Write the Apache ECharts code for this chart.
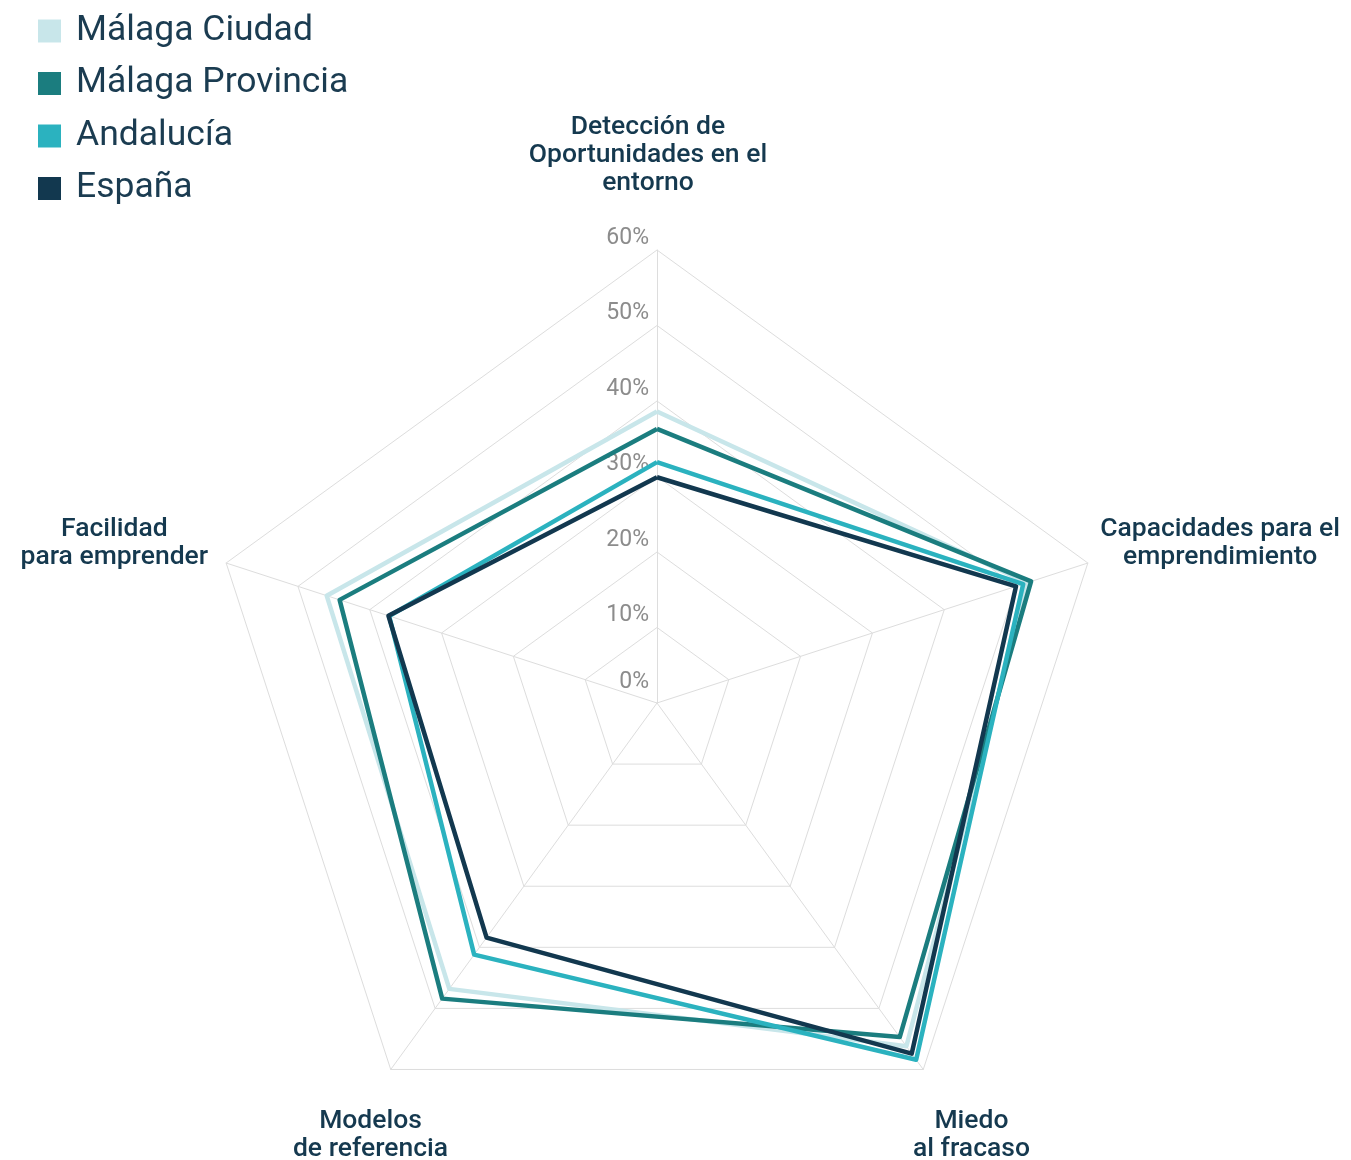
<!DOCTYPE html>
<html lang="es">
<head>
<meta charset="utf-8">
<title>Emprendimiento: percepciones</title>
<script src="https://cdn.jsdelivr.net/npm/echarts@6/dist/echarts.min.js"></script>
<style>
  html, body { margin: 0; padding: 0; background: #ffffff; }
  #chart { width: 1351px; height: 1160px; }
</style>
</head>
<body>
<div id="chart"></div>
<script>
// Indicators, in the order the radar lays them out (top, then counter-clockwise)
const categories = [
  'Detección de\nOportunidades en el\nentorno',
  'Facilidad\npara emprender',
  'Modelos\nde referencia',
  'Miedo\nal fracaso',
  'Capacidades para el\nemprendimiento'
];

// Percentages per region, same order as categories
const malagaCiudad    = [38.6, 46.0, 46.8, 56.2, 51.6];
const malagaProvincia = [36.3, 44.2, 48.4, 54.7, 52.1];
const andalucia       = [31.9, 37.3, 41.2, 58.4, 51.0];
const espana          = [29.9, 37.4, 38.4, 57.4, 50.0];

const seriesNames = ['Málaga Ciudad', 'Málaga Provincia', 'Andalucía', 'España'];
const seriesValues = [malagaCiudad, malagaProvincia, andalucia, espana];
const seriesColors = ['#c8e6ea', '#1b7d7f', '#2bb2bf', '#12384f'];

const axisMax = 60;
const axisSplits = 6;

const FONT = 'Roboto, "Noto Sans", sans-serif';
const NAME_COLOR = '#15394f';

// Per-indicator name placement (gap from the outer ring and sideways padding)
const nameLayout = [
  { gap: 95, padding: [0, 18, 0, 0] },
  { gap: 64.5, padding: [0, 101, 0, 0] },
  { gap: 82, padding: [0, 0, 0, 56] },
  { gap: 82, padding: [0, 0, 0, 0] },
  { gap: 65, padding: [0, 0, 0, 141] }
];

const indicator = categories.map(function (name, i) {
  const ind = {
    name: name,
    max: axisMax,
    min: 0,
    nameGap: nameLayout[i].gap,
    nameTextStyle: {
      align: 'center',
      verticalAlign: 'middle',
      padding: nameLayout[i].padding
    }
  };
  if (i === 0) {
    ind.axisLabel = {
      show: true,
      color: '#8c8c8c',
      fontFamily: FONT,
      fontSize: 23,
      formatter: function (v) {
        return v === 0 ? '{z|0%}' : '{v|' + v + '%}';
      },
      rich: {
        v: { padding: [0, 0, 24, 0], fontSize: 23, color: '#8c8c8c', fontFamily: FONT },
        z: { padding: [0, 0, 42, 0], fontSize: 23, color: '#8c8c8c', fontFamily: FONT }
      }
    };
  }
  return ind;
});

const chart = echarts.init(document.getElementById('chart'), null, { renderer: 'canvas' });

chart.setOption({
  backgroundColor: '#ffffff',
  animation: false,
  color: seriesColors,
  legend: {
    orient: 'vertical',
    left: 33,
    top: 6,
    icon: 'rect',
    itemWidth: 23,
    itemHeight: 23,
    itemGap: 12.5,
    data: seriesNames,
    textStyle: {
      color: '#1b3c51',
      fontFamily: FONT,
      fontSize: 35.5,
      lineHeight: 40,
      padding: [0, 0, 0, 10]
    }
  },
  radar: {
    center: [657, 703],
    radius: 453,
    startAngle: 90,
    shape: 'polygon',
    splitNumber: axisSplits,
    indicator: indicator,
    axisName: {
      color: NAME_COLOR,
      fontFamily: FONT,
      fontSize: 26.5,
      fontWeight: 500,
      lineHeight: 28
    },
    axisLabel: { show: false },
    axisTick: { show: false },
    axisLine: { lineStyle: { color: '#dddddd', width: 1 } },
    splitLine: { lineStyle: { color: '#dddddd', width: 1 } },
    splitArea: { show: false }
  },
  series: seriesNames.map(function (name, i) {
    return {
      name: name,
      type: 'radar',
      symbol: 'none',
      lineStyle: { color: seriesColors[i], width: 4.5 },
      itemStyle: { color: seriesColors[i] },
      data: [{ name: name, value: seriesValues[i] }]
    };
  })
});
</script>
</body>
</html>
